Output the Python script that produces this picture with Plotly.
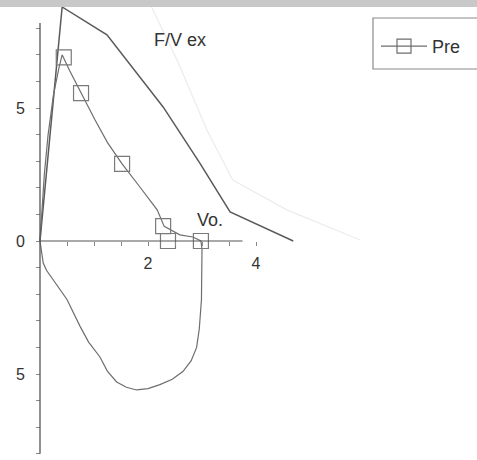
import plotly.graph_objects as go

# ---- data (volume L, flow L/s) ----
pred_vol = [0.0, 0.41, 1.24, 2.28, 2.96, 3.52, 4.69]
pred_flow = [0.0, 8.8, 7.75, 5.04, 2.93, 1.09, 0.0]

faint_vol = [2.04, 2.54, 3.09, 3.57, 4.57, 5.93]
faint_flow = [8.9, 6.8, 4.17, 2.29, 1.17, 0.04]

loop_vol = [0.0, 0.03, 0.08, 0.15, 0.25, 0.35, 0.41, 0.55, 0.76, 1.02, 1.25, 1.52,
            1.85, 2.17, 2.30, 2.59, 2.83, 2.98, 3.0, 3.0, 2.99, 2.95, 2.9, 2.8,
            2.65, 2.45, 2.22, 2.0, 1.79, 1.6, 1.42, 1.25, 1.11, 0.9, 0.74, 0.5,
            0.24, 0.12, 0.06, 0.0]
loop_flow = [0.0, 1.0, 2.5, 4.0, 5.5, 6.5, 7.0, 6.4, 5.56, 4.55, 3.7, 2.9,
             2.03, 1.17, 0.55, 0.23, 0.15, 0.0, -0.3, -1.2, -2.2, -3.3, -4.0, -4.5,
             -4.9, -5.2, -5.4, -5.55, -5.6, -5.5, -5.3, -4.9, -4.36, -3.8, -3.2, -2.2,
             -1.47, -1.1, -0.83, 0.0]

mark_vol = [0.44, 0.76, 1.52, 2.28, 2.37, 2.98]
mark_flow = [6.9, 5.56, 2.9, 0.56, 0.0, 0.0]

x_ticks = [0.5, 1.0, 1.5, 2.0, 2.5, 3.0, 3.5, 4.0]
x_labels = ["", "", "", "2", "", "", "", "4"]
y_ticks = list(range(-8, 9))
y_labels = {5: "5", 0: "0", -5: "5"}

W, H = 477, 460
xmin, xmax = -40 / 54.0, 437 / 54.0
ymin, ymax = -219 / 26.6, 241 / 26.6

FONT = "Liberation Sans, Arial, sans-serif"
fig = go.Figure()

fig.add_trace(go.Scatter(x=faint_vol, y=faint_flow, mode="lines",
                         line=dict(color="#ececec", width=1.2),
                         showlegend=False, hoverinfo="skip"))
fig.add_trace(go.Scatter(x=pred_vol, y=pred_flow, mode="lines",
                         line=dict(color="#5a5a5a", width=1.5),
                         showlegend=False, hoverinfo="skip"))
fig.add_trace(go.Scatter(x=loop_vol, y=loop_flow, mode="lines",
                         line=dict(color="#6e6e6e", width=1.2),
                         showlegend=False, hoverinfo="skip"))
fig.add_trace(go.Scatter(x=mark_vol, y=mark_flow, mode="markers",
                         marker=dict(symbol="square-open", size=15,
                                     color="#7a7a7a", line=dict(width=1.2)),
                         showlegend=False, hoverinfo="skip"))
fig.add_trace(go.Scatter(x=[None], y=[None], mode="lines+markers", name="Pre",
                         line=dict(color="#6e6e6e", width=1.2),
                         marker=dict(symbol="square-open", size=14,
                                     color="#6e6e6e", line=dict(width=1.2))))

xpos = (0 - ymin) / (ymax - ymin)
ypos = (0 - xmin) / (xmax - xmin)

fig.update_layout(
    width=W, height=H,
    margin=dict(l=0, r=0, t=0, b=0),
    paper_bgcolor="white", plot_bgcolor="white",
    font=dict(family=FONT, color="#333333", size=15),
    xaxis=dict(range=[xmin, xmax], domain=[0, 1], anchor="free", position=xpos,
               showgrid=False, zeroline=False, showline=False,
               tickmode="array", tickvals=x_ticks, ticktext=x_labels,
               ticks="outside", ticklen=4, tickcolor="#888888",
               ticklabelstandoff=4, tickfont=dict(size=16), automargin=False),
    yaxis=dict(range=[ymin, ymax], domain=[0, 1], anchor="free", position=ypos,
               showgrid=False, zeroline=False, showline=False,
               tickmode="array", tickvals=y_ticks,
               ticktext=[y_labels.get(v, "") for v in y_ticks],
               ticks="outside", ticklen=4, tickcolor="#888888",
               ticklabelstandoff=8, tickfont=dict(size=16), automargin=False),
    showlegend=True,
    legend=dict(x=376 / W, y=1 - 28 / H, xanchor="left", yanchor="top",
                bgcolor="rgba(0,0,0,0)", borderwidth=0,
                font=dict(size=18, family=FONT, color="#333333"),
                itemwidth=46),
    shapes=[
        dict(type="line", xref="x", yref="y", x0=0, y0=-8.0, x1=0, y1=8.2,
             line=dict(color="#555555", width=1.3)),
        dict(type="line", xref="x", yref="y", x0=0, y0=0, x1=3.75, y1=0,
             line=dict(color="#555555", width=1.2)),
        dict(type="rect", xref="paper", yref="paper", x0=373 / W, x1=1.05,
             y0=1 - 69 / H, y1=1 - 18 / H,
             line=dict(color="#8a8a8a", width=1.2), fillcolor="rgba(0,0,0,0)"),
        dict(type="rect", xref="paper", yref="paper", x0=0, x1=1,
             y0=1 - 7 / H, y1=1, line=dict(width=0), fillcolor="#c8c8c8",
             layer="above"),
    ],
    annotations=[
        dict(text="F/V ex", xref="paper", yref="paper", x=152 / W, y=1 - 40 / H,
             xanchor="left", yanchor="middle", showarrow=False,
             font=dict(size=18, family=FONT, color="#333333")),
        dict(text="Vo.", xref="paper", yref="paper", x=195 / W, y=1 - 220 / H,
             xanchor="left", yanchor="middle", showarrow=False,
             font=dict(size=18, family=FONT, color="#333333")),
    ],
)

fig.write_html("out.html",
               config={"displayModeBar": False},
               post_script="document.body.style.margin='0';"
                           "document.body.style.overflow='hidden';")
